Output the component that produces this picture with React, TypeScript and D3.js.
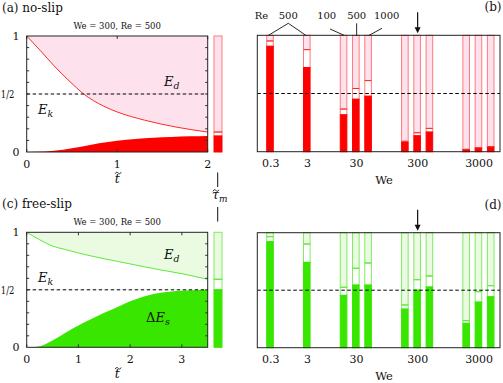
import React from "react";
import * as d3 from "d3";

// ---------- data ----------
// (a) no-slip time history (We = 300, Re = 500)
const timeA = [0, 0.15, 0.3, 0.48, 0.63, 0.85, 1.0, 1.3, 1.65, 2.0];
const upperA = [1, 0.875, 0.745, 0.605, 0.5, 0.395, 0.345, 0.275, 0.215, 0.172];
const timeAs = [0, 0.2, 0.4, 0.6, 0.8, 1.0, 1.2, 1.4, 1.6, 1.8, 2.0];
const surfA = [0, 0.004, 0.02, 0.045, 0.075, 0.098, 0.113, 0.123, 0.13, 0.135, 0.138];

// (c) free-slip time history (We = 300, Re = 500)
const timeC = [0, 0.25, 0.5, 0.75, 1, 1.5, 2, 2.5, 3, 3.5];
const upperC = [1, 0.935, 0.88, 0.85, 0.82, 0.77, 0.725, 0.68, 0.64, 0.591];
const timeCs = [0, 0.2, 0.5, 0.8, 1.0, 1.2, 1.5, 1.8, 2.0, 2.25, 2.5, 2.9, 3.2, 3.5];
const surfC = [0, 0.005, 0.06, 0.14, 0.19, 0.235, 0.3, 0.36, 0.4, 0.44, 0.468, 0.49, 0.497, 0.5];

// (b),(d) bars at tau_m
const barWe = ["0.3", "3", "30", "30", "30", "300", "300", "300", "3000", "3000", "3000"];
const barRe = [500, 500, 100, 500, 1000, 100, 500, 1000, 100, 500, 1000];
const noSlipSurf = [0.906, 0.723, 0.317, 0.451, 0.477, 0.08, 0.137, 0.169, 0.017, 0.03, 0.04];
const noSlipTop = [0.951, 0.877, 0.366, 0.543, 0.611, 0.089, 0.163, 0.2, 0.02, 0.034, 0.043];
const freeSlipSurf = [0.922, 0.742, 0.455, 0.545, 0.545, 0.336, 0.501, 0.528, 0.212, 0.397, 0.443];
const freeSlipTop = [0.965, 0.901, 0.525, 0.69, 0.736, 0.371, 0.591, 0.623, 0.235, 0.487, 0.539];
const weTicks = ["0.3", "3", "30", "300", "3000"];
const yTickVals = [0, 0.5, 1];
const yTickLabels = ["0", "1/2", "1"];

// ---------- styles ----------
const FONT = "'DejaVu Serif', 'Times New Roman', serif";
const RED = { solid: "#ff0000", light: "#fde2ee", line: "#ff2a2a", outline: "#ff7a7a" };
const GREEN = { solid: "#38e600", light: "#ebfbe2", line: "#5fe83c", outline: "#7fec62" };

const tx = (size: number, extra: any = {}) => ({ style: { fontFamily: FONT, fontSize: size, ...extra }, fill: "#111" });

function Tilde({ cx, cy }: { cx: number; cy: number }) {
  return (
    <path
      d={`M${cx - 3},${cy + 0.8} C${cx - 2},${cy - 1.2} ${cx - 0.8},${cy - 1.2} ${cx},${cy} S${cx + 2},${cy + 1.2} ${cx + 3},${cy - 0.8}`}
      fill="none"
      stroke="#111"
      strokeWidth={0.9}
    />
  );
}

function Sub({ x, y, base, sub, size }: any) {
  return (
    <text x={x} y={y} {...tx(size, { fontStyle: "italic" })}>
      <tspan>{base}</tspan>
      <tspan style={{ fontSize: size * 0.72 }} dy={size * 0.22}>{sub}</tspan>
    </text>
  );
}

function slotLayout() {
  const slots: number[] = [];
  barWe.forEach((w, i) => {
    if (i === 0) slots.push(0);
    else slots.push(slots[i - 1] + (w === barWe[i - 1] ? 1 : 3));
  });
  return slots;
}

function TimePanel({ box, tmax, tU, vU, tS, vS, pal, label, sideX, children }: any) {
  const x = d3.scaleLinear().domain([0, tmax]).range([box.l, box.r]);
  const y = d3.scaleLinear().domain([0, 1]).range([box.b, box.t]);
  const up = tU.map((t: number, i: number) => [t, vU[i]]);
  const sf = tS.map((t: number, i: number) => [t, vS[i]]);
  const topArea = d3.area<number[]>().x(d => x(d[0])).y0(y(1)).y1(d => y(d[1])).curve(d3.curveMonotoneX);
  const botArea = d3.area<number[]>().x(d => x(d[0])).y0(y(0)).y1(d => y(d[1])).curve(d3.curveMonotoneX);
  const line = d3.line<number[]>().x(d => x(d[0])).y(d => y(d[1])).curve(d3.curveMonotoneX);
  const minor = d3.range(1, 10).map(i => i / 10);
  const xt = d3.range(0, Math.floor(tmax) + 1);
  const endU = vU[vU.length - 1];
  const endS = vS[vS.length - 1];
  const sw = 8;
  const mx = (box.l + box.r) / 2;
  return (
    <g>
      <path d={topArea(up) || ""} fill={pal.light} />
      <path d={botArea(sf) || ""} fill={pal.solid} />
      <path d={line(up) || ""} fill="none" stroke={pal.line} strokeWidth={1} />
      <line x1={box.l} x2={box.r} y1={y(0.5)} y2={y(0.5)} stroke="#000" strokeDasharray="3.5,2.5" strokeWidth={1} />
      {minor.map(v => (
        <g key={v}>
          <line x1={box.l} x2={box.l + 2.5} y1={y(v)} y2={y(v)} stroke="#333" />
          <line x1={box.r} x2={box.r - 2.5} y1={y(v)} y2={y(v)} stroke="#333" />
        </g>
      ))}
      {xt.map(t => (
        <g key={t}>
          <line x1={x(t)} x2={x(t)} y1={box.t} y2={box.t + 3} stroke="#333" />
          <line x1={x(t)} x2={x(t)} y1={box.b} y2={box.b - 3} stroke="#333" />
          <text x={x(t)} y={box.b + 15.5} textAnchor="middle" {...tx(11)}>{t}</text>
        </g>
      ))}
      {yTickVals.map((v, i) =>
        v === 0.5 ? (
          <text key={v} x={0.8} y={y(v) + 4} textLength={13.5} lengthAdjust="spacingAndGlyphs" {...tx(11)}>{yTickLabels[i]}</text>
        ) : (
          <text key={v} x={19.5} y={y(v) + 4} textAnchor="end" {...tx(11)}>{yTickLabels[i]}</text>
        )
      )}
      <rect x={box.l} y={box.t} width={box.r - box.l} height={box.b - box.t} fill="none" stroke="#222" strokeWidth={1} />
      <text x={mx} y={box.t - 7} textAnchor="middle" {...tx(8.5)}>We = 300, Re = 500</text>
      <text x={2} y={box.t - 24} {...tx(12)}>{label}</text>
      <text x={mx} y={box.b + 31} textAnchor="middle" {...tx(12.5, { fontStyle: "italic" })}>t</text>
      <Tilde cx={mx + 1} cy={box.b + 21} />
      {/* side bar at tau_m */}
      <rect x={sideX} y={y(1)} width={sw} height={y(endU) - y(1)} fill={pal.light} stroke={pal.outline} />
      <rect x={sideX} y={y(endU)} width={sw} height={y(endS) - y(endU)} fill="#fff" stroke={pal.outline} />
      <rect x={sideX} y={y(endS)} width={sw} height={y(0) - y(endS)} fill={pal.solid} stroke={pal.solid} />
      <line x1={sideX} x2={sideX + sw} y1={y(endU)} y2={y(endU)} stroke={pal.line} />
      {children}
    </g>
  );
}

function BarPanel({ box, surf, top, pal, label }: any) {
  const slots = slotLayout();
  const x = d3.scaleLinear().domain([0, slots[slots.length - 1]]).range([270, 490.7]);
  const y = d3.scaleLinear().domain([0, 1]).range([box.b, box.t]);
  const bw = 6.6;
  const groupX = weTicks.map(w => d3.mean(slots.filter((_, i) => barWe[i] === w)) as number);
  const ai = barWe.findIndex((w, k) => w === "300" && barRe[k] === 500);
  const ax = x(slots[ai]) + 0.5;
  return (
    <g>
      {barWe.map((w, i) => {
        const cx = x(slots[i]);
        return (
          <g key={i}>
            <rect x={cx - bw / 2} y={y(1)} width={bw} height={y(top[i]) - y(1)} fill={pal.light} stroke={pal.outline} />
            <rect x={cx - bw / 2} y={y(top[i])} width={bw} height={y(surf[i]) - y(top[i])} fill="#fff" stroke={pal.outline} />
            <rect x={cx - bw / 2} y={y(surf[i])} width={bw} height={y(0) - y(surf[i])} fill={pal.solid} stroke={pal.solid} />
            <line x1={cx - bw / 2} x2={cx + bw / 2} y1={y(top[i])} y2={y(top[i])} stroke={pal.line} />
          </g>
        );
      })}
      <line x1={box.l} x2={box.r} y1={y(0.5)} y2={y(0.5)} stroke="#000" strokeDasharray="3.5,2.5" strokeWidth={1} />
      <rect x={box.l} y={box.t} width={box.r - box.l} height={box.b - box.t} fill="none" stroke="#222" strokeWidth={1} />
      {weTicks.map((w, i) => (
        <text key={w} x={x(groupX[i]) + 0.7} y={box.b + 15.5} textAnchor="middle" {...tx(11)}>{w}</text>
      ))}
      <text x={box.r - 7} y={box.t - 24} textAnchor="middle" {...tx(12)}>{label}</text>
      <text x={384} y={box.b + 32} textAnchor="middle" {...tx(11.5)}>We</text>
      <line x1={ax} x2={ax} y1={box.t - 23} y2={box.t - 4} stroke="#111" strokeWidth={1.2} />
      <path d={`M${ax - 3},${box.t - 8} L${ax},${box.t - 2} L${ax + 3},${box.t - 8} Z`} fill="#111" />
    </g>
  );
}

export default function App() {
  const boxA = { l: 26.7, r: 207.7, t: 36, b: 152 };
  const boxC = { l: 26.7, r: 207.7, t: 232.3, b: 347.3 };
  const boxB = { l: 257.3, r: 500, t: 35.3, b: 151.7 };
  const boxD = { l: 257.3, r: 500, t: 232.7, b: 347.7 };

  const slots = slotLayout();
  const xb = d3.scaleLinear().domain([0, slots[slots.length - 1]]).range([270, 490.7]);
  const yTop = boxB.t;

  return (
    <svg width={503} height={383} style={{ position: "absolute", left: 0, top: 0, background: "#fff" }}>
      <TimePanel box={boxA} tmax={2} tU={timeA} vU={upperA} tS={timeAs} vS={surfA} pal={RED} label="(a) no-slip" sideX={214}>
        <Sub x={164} y={86} base="E" sub="d" size={13} />
        <Sub x={38} y={114} base="E" sub="k" size={13} />
      </TimePanel>
      <TimePanel box={boxC} tmax={3.5} tU={timeC} vU={upperC} tS={timeCs} vS={surfC} pal={GREEN} label="(c) free-slip" sideX={214}>
        <Sub x={164} y={259} base="E" sub="d" size={13} />
        <Sub x={38} y={282} base="E" sub="k" size={13} />
        <text x={146} y={322} {...tx(13)}>
          <tspan>Δ</tspan>
          <tspan style={{ fontStyle: "italic" }}>E</tspan>
          <tspan style={{ fontStyle: "italic", fontSize: 9.5 }} dy={3}>s</tspan>
        </text>
      </TimePanel>

      {/* tau_m marker between side bars */}
      <line x1={217.7} x2={217.7} y1={172.5} y2={187} stroke="#111" strokeWidth={1} />
      <line x1={217.7} x2={217.7} y1={207} y2={221.5} stroke="#111" strokeWidth={1} />
      <text x={212} y={199} {...tx(12.5, { fontStyle: "italic" })}>
        <tspan>τ</tspan>
        <tspan style={{ fontSize: 9 }} dy={2.5}>m</tspan>
      </text>
      <Tilde cx={216} cy={190.5} />

      <BarPanel box={boxB} surf={noSlipSurf} top={noSlipTop} pal={RED} label="(b)" />
      <BarPanel box={boxD} surf={freeSlipSurf} top={freeSlipTop} pal={GREEN} label="(d)" />

      {/* Re annotation above (b) */}
      <text x={261.5} y={19} textAnchor="middle" {...tx(10)}>Re</text>
      <text x={288.3} y={19} textAnchor="middle" {...tx(10)}>{barRe[0]}</text>
      <line x1={288.3} y1={23.3} x2={xb(slots[0]) - 1.5} y2={yTop} stroke="#111" strokeWidth={0.9} />
      <line x1={288.3} y1={23.3} x2={xb(slots[1]) - 1} y2={yTop} stroke="#111" strokeWidth={0.9} />
      <text x={326.7} y={19} textAnchor="middle" {...tx(10)}>{barRe[2]}</text>
      <line x1={330} y1={29} x2={xb(slots[2]) + 0.5} y2={yTop} stroke="#111" strokeWidth={0.9} />
      <text x={356.7} y={19} textAnchor="middle" {...tx(10)}>{barRe[3]}</text>
      <line x1={xb(slots[3]) + 0.8} y1={23.3} x2={xb(slots[3]) + 0.8} y2={yTop} stroke="#111" strokeWidth={0.9} />
      <text x={386.7} y={19} textAnchor="middle" {...tx(10)}>{barRe[4]}</text>
      <line x1={382} y1={28.3} x2={xb(slots[4]) + 1} y2={yTop} stroke="#111" strokeWidth={0.9} />
    </svg>
  );
}
